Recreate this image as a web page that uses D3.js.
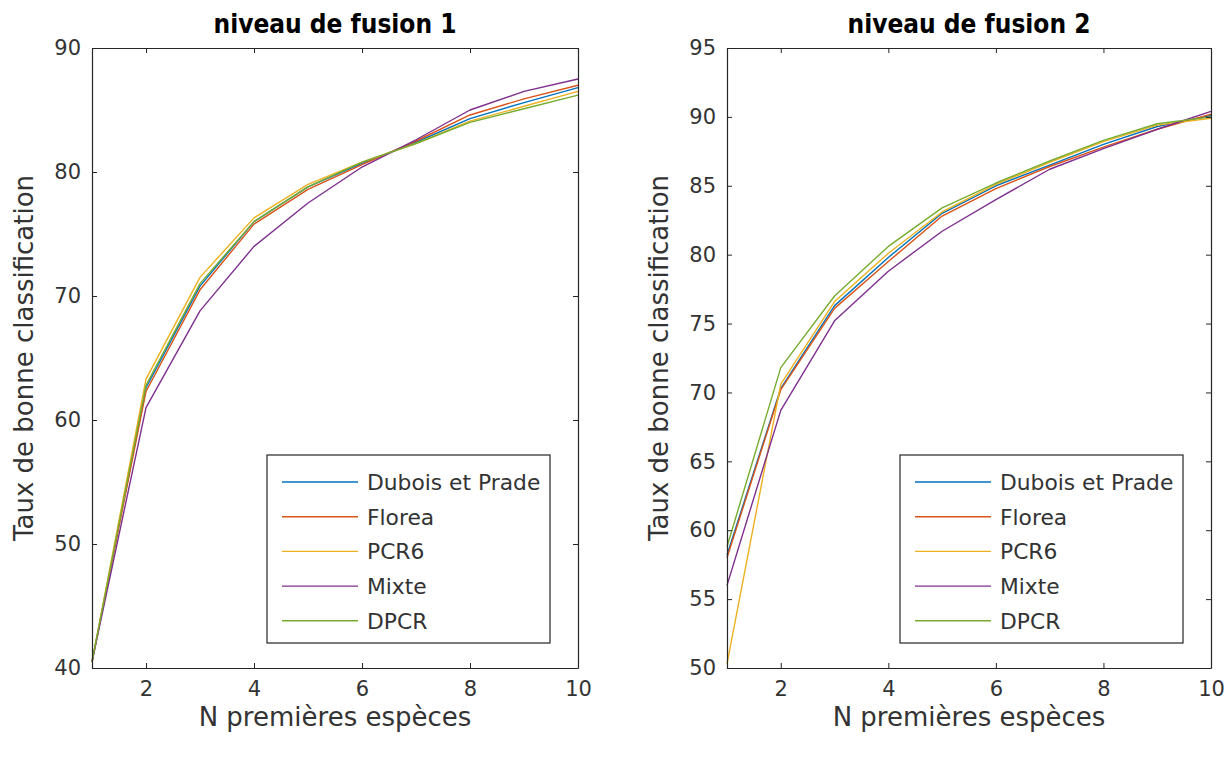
<!DOCTYPE html>
<html>
<head>
<meta charset="utf-8">
<script src="https://cdn.jsdelivr.net/npm/d3@7"></script>
<style>
  html, body { margin: 0; padding: 0; background: #fff; }
  svg { display: block; font-family: "DejaVu Sans", sans-serif; }
</style>
</head>
<body>
<svg id="chart" width="1232" height="758"></svg>
<script>
// Number of leading species considered
const nSpecies = [1, 2, 3, 4, 5, 6, 7, 8, 9, 10];

const seriesNames = ["Dubois et Prade", "Florea", "PCR6", "Mixte", "DPCR"];
const seriesColors = ["#0072BD", "#D95319", "#EDB120", "#7E2F8E", "#77AC30"];

// Fusion level 1: correct classification rate (%)
const lvl1Dubois = [40.5, 62.6, 70.8, 76.0, 78.8, 80.7, 82.4, 84.3, 85.6, 86.8];
const lvl1Florea = [40.5, 62.3, 70.5, 75.8, 78.6, 80.6, 82.5, 84.6, 85.9, 87.0];
const lvl1PCR6   = [40.5, 63.3, 71.5, 76.3, 79.0, 80.8, 82.3, 84.1, 85.3, 86.5];
const lvl1Mixte  = [40.5, 61.0, 68.8, 74.0, 77.5, 80.4, 82.6, 85.0, 86.5, 87.5];
const lvl1DPCR   = [40.5, 62.8, 71.0, 76.0, 78.8, 80.8, 82.3, 84.0, 85.1, 86.2];

// Fusion level 2: correct classification rate (%)
const lvl2Dubois = [58.2, 70.3, 76.3, 79.8, 83.0, 85.0, 86.5, 88.0, 89.3, 90.1];
const lvl2Florea = [58.0, 70.2, 76.1, 79.5, 82.8, 84.8, 86.4, 87.8, 89.1, 90.2];
const lvl2PCR6   = [50.3, 70.6, 76.6, 80.1, 83.1, 85.1, 86.7, 88.2, 89.4, 89.9];
const lvl2Mixte  = [56.0, 68.7, 75.2, 78.8, 81.7, 84.0, 86.2, 87.7, 89.1, 90.4];
const lvl2DPCR   = [58.8, 71.8, 77.0, 80.6, 83.4, 85.2, 86.8, 88.3, 89.5, 90.0];

const xTicks = [2, 4, 6, 8, 10];
const yTicks1 = [40, 50, 60, 70, 80, 90];
const yTicks2 = [50, 55, 60, 65, 70, 75, 80, 85, 90, 95];

const panels = [
  { title: "niveau de fusion 1", left: 92, right: 578, yDomain: [40, 90], yTicks: yTicks1,
    series: [lvl1Dubois, lvl1Florea, lvl1PCR6, lvl1Mixte, lvl1DPCR] },
  { title: "niveau de fusion 2", left: 727, right: 1211, yDomain: [50, 95], yTicks: yTicks2,
    series: [lvl2Dubois, lvl2Florea, lvl2PCR6, lvl2Mixte, lvl2DPCR] }
];

const plotTop = 48, plotBottom = 668;
const axisColor = "#262626";
const tickColor = "#333333";
const tickLen = 5;
const svg = d3.select("#chart");

panels.forEach(p => {
  const x = d3.scaleLinear().domain([1, 10]).range([p.left, p.right]);
  const y = d3.scaleLinear().domain(p.yDomain).range([plotBottom, plotTop]);
  const g = svg.append("g");

  // lines
  const line = d3.line().x((d, i) => x(nSpecies[i])).y(d => y(d));
  p.series.forEach((vals, k) => {
    g.append("path").datum(vals)
      .attr("fill", "none")
      .attr("stroke", seriesColors[k])
      .attr("stroke-width", 1.4)
      .attr("stroke-linejoin", "round")
      .attr("d", line);
  });

  // axes with inward ticks on all four sides
  const styleAxis = sel => {
    sel.select(".domain").attr("stroke", axisColor).attr("stroke-width", 1.2);
    sel.selectAll(".tick line").attr("stroke", axisColor).attr("stroke-width", 1);
    sel.selectAll(".tick text").attr("fill", tickColor)
      .style("font-size", "21px").style("font-family", "'DejaVu Sans', sans-serif");
  };

  g.append("g").attr("transform", `translate(0,${plotBottom})`)
    .call(d3.axisBottom(x).tickValues(xTicks).tickSizeInner(-tickLen).tickSizeOuter(0).tickPadding(13))
    .call(styleAxis);
  g.append("g").attr("transform", `translate(0,${plotTop})`)
    .call(d3.axisTop(x).tickValues(xTicks).tickSizeInner(-tickLen).tickSizeOuter(0).tickFormat(""))
    .call(styleAxis);
  g.append("g").attr("transform", `translate(${p.left},0)`)
    .call(d3.axisLeft(y).tickValues(p.yTicks).tickSizeInner(-tickLen).tickSizeOuter(0).tickPadding(11))
    .call(styleAxis);
  g.append("g").attr("transform", `translate(${p.right},0)`)
    .call(d3.axisRight(y).tickValues(p.yTicks).tickSizeInner(-tickLen).tickSizeOuter(0).tickFormat(""))
    .call(styleAxis);

  const cx = (p.left + p.right) / 2;

  // title
  g.append("text")
    .attr("x", cx).attr("y", 33)
    .attr("text-anchor", "middle")
    .attr("fill", "#000")
    .style("font-family", "'Liberation Sans Narrow', 'DejaVu Sans Condensed', sans-serif")
    .style("font-size", "26px").style("font-weight", "bold")
    .text(p.title);

  // axis labels
  g.append("text")
    .attr("x", cx).attr("y", 726)
    .attr("text-anchor", "middle")
    .attr("fill", tickColor)
    .style("font-size", "26px")
    .text("N premières espèces");

  g.append("text")
    .attr("transform", `translate(${p.left - 59},${(plotTop + plotBottom) / 2}) rotate(-90)`)
    .attr("text-anchor", "middle")
    .attr("fill", tickColor)
    .style("font-size", "26px")
    .text("Taux de bonne classification");

  // legend
  const lgX = p.right - 311, lgY = 455, lgW = 283, lgH = 188;
  const lg = g.append("g");
  lg.append("rect")
    .attr("x", lgX).attr("y", lgY).attr("width", lgW).attr("height", lgH)
    .attr("fill", "#fff").attr("stroke", axisColor).attr("stroke-width", 1.2);
  seriesNames.forEach((name, k) => {
    const ry = lgY + 27 + k * 34.7;
    lg.append("line")
      .attr("x1", lgX + 15).attr("x2", lgX + 91)
      .attr("y1", ry).attr("y2", ry)
      .attr("stroke", seriesColors[k]).attr("stroke-width", 1.4);
    lg.append("text")
      .attr("x", lgX + 100).attr("y", ry)
      .attr("dy", "0.36em")
      .attr("fill", tickColor)
      .style("font-size", "21.8px")
      .text(name);
  });
});
</script>
</body>
</html>
